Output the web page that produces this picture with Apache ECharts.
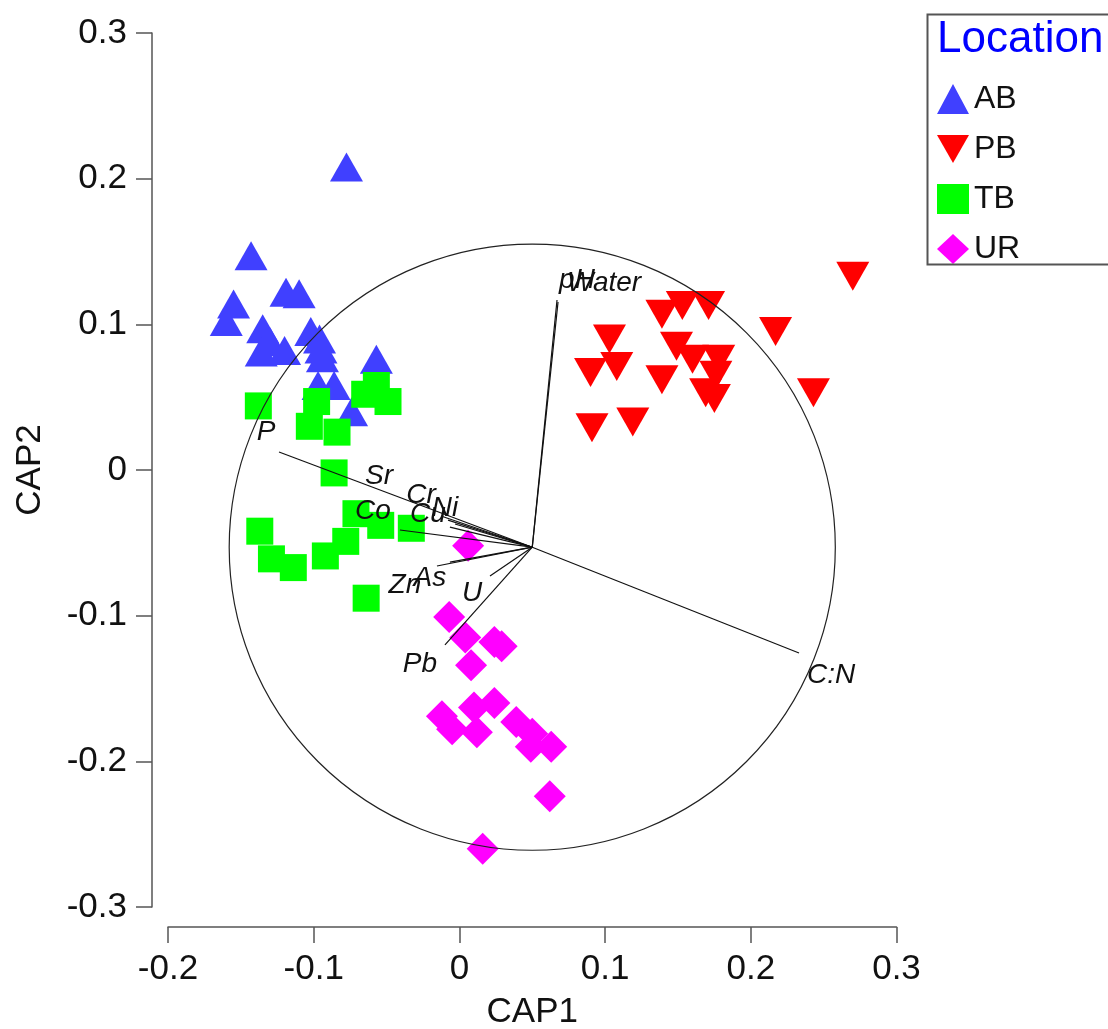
<!DOCTYPE html>
<html>
<head>
<meta charset="utf-8">
<script src="https://cdn.jsdelivr.net/npm/echarts@6/dist/echarts.min.js"></script>
<style>
html,body{margin:0;padding:0;background:#fff}
#container{width:1108px;height:1029px}
</style>
</head>
<body>
<div id="container"></div>
<script>
// sample scores, [CAP1, CAP2]
var abPts=[[-0.0775,0.208],[-0.143,0.147],[-0.119,0.122],[-0.110,0.121],[-0.155,0.114],[-0.160,0.102],
  [-0.135,0.097],[-0.130,0.088],[-0.136,0.081],[-0.120,0.082],[-0.102,0.095],[-0.096,0.090],[-0.095,0.083],
  [-0.094,0.077],[-0.057,0.076],[-0.097,0.058],[-0.086,0.058],[-0.074,0.040]];
var pbPts=[[0.270,0.133],[0.139,0.107],[0.153,0.113],[0.171,0.113],[0.217,0.095],[0.103,0.090],[0.108,0.071],
  [0.090,0.067],[0.149,0.085],[0.160,0.076],[0.178,0.076],[0.176,0.065],[0.139,0.062],[0.169,0.053],
  [0.175,0.049],[0.243,0.053],[0.091,0.029],[0.119,0.033]];
var tbPts=[[-0.138,0.044],[-0.098,0.047],[-0.103,0.030],[-0.084,0.026],[-0.065,0.052],[-0.057,0.058],
  [-0.049,0.047],[-0.086,-0.002],[-0.137,-0.042],[-0.129,-0.061],[-0.114,-0.067],[-0.092,-0.059],
  [-0.078,-0.049],[-0.071,-0.030],[-0.054,-0.038],[-0.033,-0.040],[-0.064,-0.088]];
var urPts=[[0.006,-0.052],[-0.007,-0.101],[0.004,-0.115],[0.024,-0.118],[0.029,-0.121],[0.008,-0.134],
  [-0.012,-0.169],[-0.005,-0.178],[0.010,-0.163],[0.012,-0.180],[0.024,-0.160],[0.039,-0.173],
  [0.050,-0.181],[0.049,-0.190],[0.063,-0.190],[0.062,-0.224],[0.016,-0.260]];

// vector overlay: origin, circle radius, tips
var vecOrigin=[0.05,-0.053];
var circleR=0.208;
var vecNames=['pH','Water','P','Sr','Cr','Ni','Cu','Co','Zn','As','U','Pb','C:N'];
var vecX=[0.0670,0.0677,-0.1238,-0.0126,-0.0078,-0.0030,-0.0065,-0.0408,-0.0154,-0.0065,0.0210,-0.0099,0.2331];
var vecY=[0.1167,0.1153,0.0124,-0.0316,-0.0344,-0.0371,-0.0392,-0.0412,-0.0659,-0.0632,-0.0727,-0.1201,-0.1256];

var xTicks={min:-0.2,max:0.3,step:0.1};
var yTicks={min:-0.3,max:0.3,step:0.1};
var groups=['AB','PB','TB','UR'];

// label nudges (px) from each vector tip
var labelNudge={'pH':[20,-20],'Water':[46,-19],'P':[-13,-20],'Sr':[-62,-40],'Cr':[-27,-25],'Ni':[-10,-16],
  'Cu':[-22,-13],'Co':[-27,-19],'Zn':[-32,19],'As':[-20,16],'U':[-18,17],'Pb':[-25,19],'C:N':[32,22]};

var FONT='"Liberation Sans", Arial, sans-serif';
var dom=document.getElementById('container');
var myChart=echarts.init(dom);

var vecData=[];
for(var i=0;i<vecNames.length;i++){
  vecData.push([vecX[i],vecY[i]]);
}

var option={
  animation:false,
  backgroundColor:'#fff',
  grid:{left:168,right:211.5,top:33,bottom:122,containLabel:false,outerBoundsMode:'none'},
  xAxis:{
    type:'value',min:xTicks.min,max:xTicks.max,interval:xTicks.step,offset:20,
    splitLine:{show:false},
    axisLine:{show:true,onZero:false,lineStyle:{color:'#555',width:1.5}},
    axisTick:{show:true,length:16,lineStyle:{color:'#555',width:1.5}},
    axisLabel:{fontSize:35,color:'#111',fontFamily:FONT,margin:25},
    name:'CAP1',nameLocation:'middle',nameGap:68,
    nameTextStyle:{fontSize:35,color:'#111',fontFamily:FONT}
  },
  yAxis:{
    type:'value',min:yTicks.min,max:yTicks.max,interval:yTicks.step,offset:16,
    splitLine:{show:false},
    axisLine:{show:true,onZero:false,lineStyle:{color:'#555',width:1.5}},
    axisTick:{show:true,length:16,lineStyle:{color:'#555',width:1.5}},
    axisLabel:{fontSize:35,color:'#111',fontFamily:FONT,margin:25},
    name:'CAP2',nameLocation:'middle',nameGap:104,
    nameTextStyle:{fontSize:35,color:'#111',fontFamily:FONT}
  },
  legend:{
    orient:'vertical',left:932,top:78,itemWidth:32,itemHeight:30,itemGap:18,itemTextGap:16,
    data:groups,
    textStyle:{fontSize:32,color:'#111',fontFamily:FONT}
  },
  graphic:[
    {type:'rect',left:925,top:12,z:100,shape:{width:200,height:250},style:{fill:'none',stroke:'#555',lineWidth:2}},
    {type:'text',left:937,top:18,z:100,style:{text:'Location',fill:'#0000ff',font:'44px '+FONT}}
  ],
  series:[
    {name:'AB',type:'scatter',data:abPts,symbol:'triangle',symbolSize:[33,29],
      itemStyle:{color:'#4040ff',opacity:1},z:2},
    {name:'TB',type:'scatter',data:tbPts,symbol:'rect',symbolSize:27,
      itemStyle:{color:'#00ff00',opacity:1},z:3},
    {name:'PB',type:'scatter',data:pbPts,symbol:'path://M0,0L2,0L1,1.75Z',symbolSize:[33,29],
      itemStyle:{color:'#ff0000',opacity:1},z:4},
    {name:'UR',type:'scatter',data:urPts,symbol:'diamond',symbolSize:32,
      itemStyle:{color:'#ff00ff',opacity:1},z:5},
    {
      type:'custom',coordinateSystem:'cartesian2d',silent:true,z:10,
      data:[[vecOrigin[0],vecOrigin[1]]],
      renderItem:function(params,api){
        var c=api.coord([api.value(0),api.value(1)]);
        var r=api.size([circleR,0])[0];
        return {type:'circle',shape:{cx:c[0],cy:c[1],r:r},
          style:{fill:null,stroke:'#222',lineWidth:1.2}};
      }
    },
    {
      type:'custom',coordinateSystem:'cartesian2d',silent:true,z:11,
      data:vecData,
      renderItem:function(params,api){
        var o=api.coord(vecOrigin);
        var e=api.coord([api.value(0),api.value(1)]);
        var nm=vecNames[params.dataIndex];
        var n=labelNudge[nm]||[0,0];
        return {type:'group',children:[
          {type:'line',shape:{x1:o[0],y1:o[1],x2:e[0],y2:e[1]},style:{stroke:'#111',lineWidth:1.2}},
          {type:'text',x:e[0]+n[0],y:e[1]+n[1],
            style:{text:nm,fill:'#111',font:'italic 28px '+FONT,align:'center',verticalAlign:'middle'}}
        ]};
      }
    }
  ]
};

myChart.setOption(option);
</script>
</body>
</html>
